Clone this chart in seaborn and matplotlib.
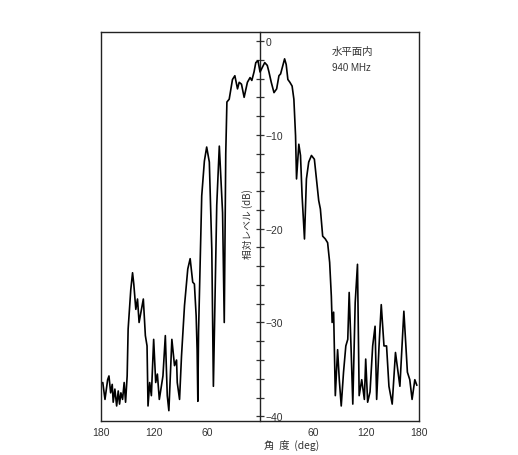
import numpy as np
import pandas as pd
import seaborn as sns
import matplotlib.pyplot as plt
from matplotlib.ticker import FixedLocator, FuncFormatter

# horizontal-plane pattern at 940 MHz
angle = [-178, -175.5, -172.5, -171, -169.1, -167.3, -166.2, -164.3, -162.3, -160.5,
         -159, -157.5, -155.6, -153.8, -152.2, -150.4, -149.3, -146.3, -144.3, -142.9,
         -140.6, -138.7, -136.9, -134.2, -132.1, -129.8, -127.9, -126.8, -124.9, -123,
         -120.4, -118.1, -116.2, -114, -111.7, -109.9, -107.2, -105, -103.2, -99.8,
         -96.8, -94.5, -93.7, -91.1, -88.9, -85.5, -81.8, -79.1, -76.2, -74.3,
         -72.3, -71.2, -70.4, -69.6, -66, -63, -60.4, -57.4, -54.6, -52.8,
         -51.5, -49, -46.1, -42.4, -40.5, -38.8, -37.5, -34.9, -31.2, -28.5,
         -25.5, -23.6, -21, -18, -14.3, -11.3, -9.3, -6.8, -4.8, -2.3,
         0, 2.6, 5.3, 8.2, 10.1, 12.7, 15.8, 18.8, 21.4, 23.3,
         25.9, 27.8, 29.6, 31.5, 33.8, 36.3, 38.3, 40.2, 41.3, 43.9,
         45.8, 47.6, 50.3, 52.5, 55.1, 58.2, 61.5, 63.8, 66.4, 68.3,
         70.9, 73.9, 76.5, 78.8, 80.7, 81.6, 83.3, 85.2, 87.8, 89.7,
         91.9, 94.5, 97.1, 99.3, 100.9, 103.2, 105, 107.7, 110.3, 112.2,
         115.1, 118.1, 119.6, 121.8, 124.5, 127.5, 130.2, 132, 134.7, 137.2,
         140.3, 143.2, 145.9, 149.6, 153.3, 158.3, 162.8, 166.8, 169.5, 172.1,
         175.2, 177.5]
level = [-36.4, -38.2, -36.1, -35.7, -37.5, -36.6, -38.5, -37.1, -38.9, -37.3,
         -38.7, -37.5, -38.2, -36.4, -38.5, -35.7, -30.7, -26.5, -24.7, -25.9,
         -28.6, -27.5, -30.0, -28.6, -27.5, -31.4, -32.5, -38.9, -36.4, -37.8,
         -31.8, -36.4, -35.5, -38.2, -36.8, -35.7, -31.4, -37.8, -39.4, -31.8,
         -34.6, -34.0, -36.4, -38.2, -33.6, -28.2, -24.3, -23.2, -25.7, -25.9,
         -29.3, -33.0, -38.4, -31.0, -16.5, -12.8, -11.3, -12.9, -22.2, -36.8,
         -30.0, -17.5, -11.2, -18.3, -30.0, -12.0, -6.5, -6.2, -4.1, -3.7,
         -5.1, -4.4, -4.6, -6.0, -4.4, -3.9, -4.2, -3.3, -2.3, -2.1,
         -3.3, -2.8, -2.3, -2.6, -3.3, -4.4, -5.5, -5.1, -3.7, -3.5,
         -2.6, -1.9, -2.5, -4.1, -4.4, -4.8, -6.2, -10.1, -14.7, -11.0,
         -12.2, -16.5, -21.1, -14.7, -12.9, -12.2, -12.6, -14.7, -17.0, -17.9,
         -20.8, -21.1, -21.5, -23.6, -27.2, -30.0, -28.9, -37.8, -32.9, -36.1,
         -38.9, -35.3, -32.5, -31.8, -26.8, -33.2, -38.7, -27.9, -23.8, -37.8,
         -36.1, -38.2, -33.9, -38.5, -37.4, -32.5, -30.4, -38.2, -32.5, -28.1,
         -32.5, -32.5, -36.8, -38.7, -33.2, -36.8, -28.8, -35.3, -36.1, -38.2,
         -36.1, -36.7]

x_ticks = [-180, -120, -60, 60, 120, 180]
x_ticklabels = ['180', '120', '60', '60', '120', '180']
db_ticks = list(range(0, -42, -2))

pattern = pd.DataFrame({'angle': angle, 'level': level})

sns.set_style('white')
plt.rcParams['font.family'] = ['Liberation Sans', 'Noto Sans CJK JP', 'DejaVu Sans']

fig = plt.figure(figsize=(5.18, 4.56), dpi=100)
ax = fig.add_axes([0.195, 0.0746, 0.614, 0.853])

sns.lineplot(data=pattern, x='angle', y='level', sort=False, estimator=None,
             color='black', linewidth=1.2, ax=ax)

ax.set_xlim(-180, 180)
ax.set_ylim(-40.5, 0.96)
for s in ax.spines.values():
    s.set_color('#222222')
    s.set_linewidth(1.0)

ax.set_xticks(x_ticks)
ax.set_xticklabels(x_ticklabels)
ax.tick_params(axis='x', direction='in', length=3, width=0.8, labelsize=7.5,
               colors='#333333', pad=4)
ax.set_yticks([])
ax.set_xlabel('')
ax.set_ylabel('')

# level scale drawn on the 0 deg line
center = ax.secondary_yaxis(0.5)
center.yaxis.set_major_locator(FixedLocator(db_ticks))
center.yaxis.set_major_formatter(FuncFormatter(
    lambda v, p: ('%d' % v).replace('-', '\u2212') if v % 10 == 0 else ''))
center.tick_params(direction='inout', length=6, width=0.9, labelsize=7.5,
                   colors='#333333', pad=1)
center.spines['right'].set_linewidth(1.0)
center.spines['right'].set_color('#222222')

ax.text(-14.6, -19.4, '相対レベル (dB)', rotation=90, ha='center', va='center',
        fontsize=7, color='#333333', family=['Noto Sans CJK JP', 'DejaVu Sans'])
ax.text(81, -1.1, '水平面内', ha='left', va='center', fontsize=7.5, color='#333333',
        family=['Noto Sans CJK JP', 'DejaVu Sans'])
ax.text(81, -2.8, '940 MHz', ha='left', va='center', fontsize=7, color='#333333')
ax.text(0.6, -0.06, '角  度  (deg)', transform=ax.transAxes, ha='center', va='center',
        fontsize=7.5, color='#333333', family=['Noto Sans CJK JP', 'DejaVu Sans'])

fig.savefig('out.png', dpi=100)
